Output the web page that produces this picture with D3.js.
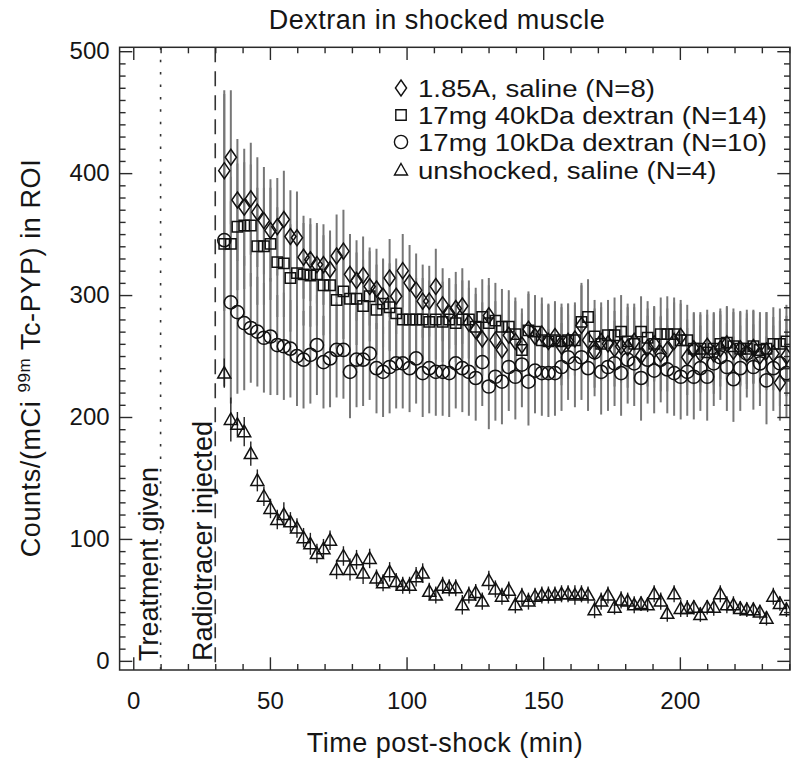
<!DOCTYPE html>
<html><head><meta charset="utf-8">
<script src="https://cdn.jsdelivr.net/npm/d3@7/dist/d3.min.js"></script>
<style>
body{margin:0;background:#fff}
text{font-family:"Liberation Sans",Arial,Helvetica,sans-serif;fill:#151515}
</style>
</head><body>
<svg id="chart" width="795" height="766"></svg>
<script>
// ---------------- data ----------------
const times = [33.3,35.7,38.1,40.6,43.0,45.4,47.8,50.2,52.7,55.1,
  57.5,59.9,62.3,64.8,67.2,69.6,72.0,74.4,76.9,79.3,
  81.7,84.1,86.5,89.0,91.4,93.8,96.2,98.6,101.1,103.5,
  105.9,108.3,110.7,113.2,115.6,118.0,120.4,122.8,125.3,127.7,
  130.1,132.5,134.9,137.4,139.8,142.2,144.6,147.0,149.5,151.9,
  154.3,156.7,159.1,161.6,164.0,166.4,168.8,171.2,173.7,176.1,
  178.5,180.9,183.3,185.8,188.2,190.6,193.0,195.4,197.9,200.3,
  202.7,205.1,207.5,210.0,212.4,214.8,217.2,219.6,222.1,224.5,
  226.9,229.3,231.7,234.2,236.6,239.0];

const saline185 = [402,413,378,372,379,368,361,353,356,362,
  348,347,331,329,325,325,321,332,336,317,
  312,316,307,305,299,314,299,320,310,304,
  295,295,307,292,285,289,291,277,271,264,
  283,263,255,267,262,259,272,266,268,262,
  266,258,262,264,275,263,254,262,260,256,
  258,257,262,250,257,260,252,255,262,266,
  249,256,252,258,252,256,260,254,256,252,
  257,250,254,252,228,250];
const saline185Err = [66,55,50,48,46,45,44,42,40,40,
  38,38,34,34,32,33,32,34,34,33,
  33,32,32,33,31,32,31,30,31,30,
  30,29,31,30,29,30,31,29,30,30,
  31,32,30,29,33,30,31,32,30,31,
  29,32,31,30,33,31,30,32,29,31,
  30,33,31,29,32,30,31,34,32,30,
  31,29,32,30,33,31,30,32,31,29,
  30,31,32,30,31,33];

const dextran40 = [342,342,356,357,357,340,340,342,327,326,
  314,318,317,316,317,308,308,296,303,297,
  297,291,299,288,293,290,285,280,280,280,
  280,278,280,278,280,277,280,280,274,282,
  277,279,274,274,268,255,271,270,263,262,
  263,262,263,263,278,282,266,260,267,267,
  270,262,260,270,265,260,268,268,268,263,
  263,256,256,253,256,260,261,258,256,256,
  258,255,256,260,260,262];
const dextran40Err = [55,55,52,52,50,48,48,46,45,44,
  44,43,42,42,42,41,40,40,39,39,
  38,38,37,37,36,36,35,35,35,34,
  34,34,33,33,33,32,32,32,32,31,
  31,31,31,30,30,30,30,30,30,30,
  30,31,30,29,32,31,30,30,29,31,
  30,31,30,29,30,31,30,31,30,30,
  29,30,30,31,30,29,30,31,30,29,
  30,31,30,30,29,30];

const dextran10 = [345,294,286,277,273,270,265,266,259,258,
  256,250,247,251,259,245,248,255,255,237,
  247,247,252,240,237,241,244,244,240,248,
  236,240,237,237,236,244,240,237,232,245,
  225,233,229,241,233,243,229,238,236,236,
  236,241,249,244,249,240,253,237,241,244,
  236,247,244,232,247,238,247,239,236,233,
  237,233,240,233,244,249,241,231,240,252,
  241,244,230,240,244,236];
const dextran10Err = [120,83,67,55,45,45,45,48,41,44,
  40,41,40,40,41,38,40,39,40,38,
  39,38,38,37,37,38,37,37,36,37,
  36,37,36,36,36,37,36,36,35,36,
  35,36,35,36,35,35,36,35,35,36,
  35,36,35,36,35,35,36,35,36,35,
  35,36,35,35,36,35,35,36,35,35,
  36,35,35,36,35,35,36,35,35,36,
  35,35,36,35,35,36];

const unshocked = [236,198,194,188,170,148,135,125,116,120,
  114,109,101,96,88,92,99,75,86,75,
  83,72,84,68,64,73,65,62,62,69,
  72,57,54,62,60,60,46,54,56,49,
  66,59,53,58,46,53,49,53,54,54,
  54,55,55,54,55,54,42,49,54,44,
  50,49,46,47,46,55,49,39,55,43,
  43,44,38,44,44,55,46,46,43,42,
  42,40,35,53,47,42];
const unshockedErr = [12,18,10,12,10,9,8,8,8,10,
  8,8,8,9,8,8,8,8,8,9,
  8,9,8,7,7,8,7,7,7,8,
  8,7,7,7,7,7,8,7,7,7,
  8,7,7,7,7,7,7,7,7,7,
  7,7,7,8,7,7,7,7,7,6,
  7,7,7,6,6,7,7,7,7,7,
  7,6,6,6,7,7,7,7,6,6,
  6,6,6,7,6,6];

const seriesLabels = ["1.85A, saline (N=8)","17mg 40kDa dextran (N=14)","17mg 10kDa dextran (N=10)","unshocked, saline (N=4)"];
const seriesShapes = ["diamond","square","circle","triangle"];
const xTickValues = [0,50,100,150,200];
const yTickValues = [0,100,200,300,400,500];
const eventTimes = [10,30];
const eventLabels = ["Treatment given","Radiotracer injected"];
const titleText = "Dextran in shocked muscle";
const xTitle = "Time post-shock (min)";

// ---------------- layout ----------------
const L = 119.6, R = 790, T = 47.3, B = 670;
const svg = d3.select("#chart");
const x = d3.scaleLinear().domain([-5, 240.3]).range([L, R]);
const y = d3.scaleLinear().domain([-7.5, 503.2]).range([B, T]);
const axisColor = "#2a2a2a";

const series = [
  {vals: saline185, err: saline185Err},
  {vals: dextran40, err: dextran40Err},
  {vals: dextran10, err: dextran10Err},
  {vals: unshocked, err: unshockedErr}
].map((s,i)=>({...s, shape: seriesShapes[i], label: seriesLabels[i],
   pts: times.map((t,j)=>({t, v:s.vals[j], e:s.err[j]}))}));

function shapePath(shape, cx, cy){
  switch(shape){
    case "diamond": return `M${cx},${cy-8}L${cx+5.6},${cy}L${cx},${cy+8}L${cx-5.6},${cy}Z`;
    case "square": return `M${cx-5.2},${cy-5.2}h10.4v10.4h-10.4Z`;
    case "circle": return `M${cx-6.6},${cy}a6.6,6.6 0 1,0 13.2,0a6.6,6.6 0 1,0 -13.2,0Z`;
    case "triangle": return `M${cx},${cy-6.5}L${cx+6.5},${cy+5}L${cx-6.5},${cy+5}Z`;
  }
}

svg.append("defs").append("clipPath").attr("id","plotclip")
  .append("rect").attr("x",L).attr("y",T).attr("width",R-L).attr("height",B-T);

const plot = svg.append("g").attr("clip-path","url(#plotclip)");

// event lines
plot.append("line").attr("x1",x(eventTimes[0])).attr("x2",x(eventTimes[0]))
  .attr("y1",T).attr("y2",B).attr("stroke","#333").attr("stroke-width",1.6)
  .attr("stroke-dasharray","2.5,9.9");
plot.append("line").attr("x1",x(eventTimes[1])).attr("x2",x(eventTimes[1]))
  .attr("y1",T).attr("y2",B).attr("stroke","#333").attr("stroke-width",1.6)
  .attr("stroke-dasharray","15,9");

// error bars: shocked series grey, unshocked black
series.forEach((s,i)=>{
  plot.append("g").selectAll("line").data(s.pts).join("line")
    .attr("x1",d=>x(d.t)).attr("x2",d=>x(d.t))
    .attr("y1",d=>y(d.v-d.e)).attr("y2",d=>y(d.v+d.e))
    .attr("stroke", i<3 ? "#777" : "#222")
    .attr("stroke-width", i<3 ? 2 : 1.4);
});
// markers
series.forEach(s=>{
  plot.append("g").selectAll("path").data(s.pts).join("path")
    .attr("d",d=>shapePath(s.shape, x(d.t), y(d.v)))
    .attr("fill","none").attr("stroke","#111").attr("stroke-width",1.5);
});

// event labels
eventTimes.forEach((t,i)=>{
  const bx = x(t) - 3;
  svg.append("text").attr("transform",`translate(${bx},${B-9}) rotate(-90)`)
    .attr("font-size",27).attr("text-anchor","start").text(eventLabels[i]);
});

// axes
function styleAxis(g){
  g.select(".domain").remove();
  g.selectAll(".tick line").attr("stroke",axisColor).attr("stroke-width",1.4);
  g.selectAll("text").attr("font-size",24).attr("fill","#151515")
    .attr("font-family","'Liberation Sans',Arial,sans-serif");
}
const minorX = d3.range(0, 241, 10).filter(v=>v%50!==0);
const minorY = d3.range(0, 501, 10).filter(v=>v%100!==0);

svg.append("g").attr("transform",`translate(0,${B})`)
  .call(d3.axisBottom(x).tickValues(xTickValues).tickSize(-12.7).tickPadding(22).tickSizeOuter(0))
  .call(styleAxis);
svg.append("g").attr("transform",`translate(0,${B})`)
  .call(d3.axisBottom(x).tickValues(minorX).tickSize(-6).tickFormat("").tickSizeOuter(0))
  .call(styleAxis);
svg.append("g").attr("transform",`translate(0,${T})`)
  .call(d3.axisTop(x).tickValues(xTickValues).tickSize(-12.7).tickFormat("").tickSizeOuter(0))
  .call(styleAxis);
svg.append("g").attr("transform",`translate(0,${T})`)
  .call(d3.axisTop(x).tickValues(minorX).tickSize(-6).tickFormat("").tickSizeOuter(0))
  .call(styleAxis);
svg.append("g").attr("transform",`translate(${L},0)`)
  .call(d3.axisLeft(y).tickValues(yTickValues).tickSize(-12.7).tickPadding(10).tickSizeOuter(0))
  .call(styleAxis);
svg.append("g").attr("transform",`translate(${L},0)`)
  .call(d3.axisLeft(y).tickValues(minorY).tickSize(-6).tickFormat("").tickSizeOuter(0))
  .call(styleAxis);
svg.append("g").attr("transform",`translate(${R},0)`)
  .call(d3.axisRight(y).tickValues(yTickValues).tickSize(-12.7).tickFormat("").tickSizeOuter(0))
  .call(styleAxis);
svg.append("g").attr("transform",`translate(${R},0)`)
  .call(d3.axisRight(y).tickValues(minorY).tickSize(-6).tickFormat("").tickSizeOuter(0))
  .call(styleAxis);

// frame
svg.append("rect").attr("x",L).attr("y",T).attr("width",R-L).attr("height",B-T)
  .attr("fill","none").attr("stroke",axisColor).attr("stroke-width",1.5);

// titles
svg.append("text").attr("x",437).attr("y",29).attr("text-anchor","middle")
  .attr("font-size",27).attr("letter-spacing",0.5).text(titleText);
svg.append("text").attr("x",445).attr("y",752).attr("text-anchor","middle")
  .attr("font-size",27).attr("letter-spacing",0.5).text(xTitle);
const yt = svg.append("text").attr("transform","translate(40,358) rotate(-90)")
  .attr("text-anchor","middle").attr("font-size",27).attr("letter-spacing",0.6);
yt.append("tspan").text("Counts/(mCi ");
yt.append("tspan").attr("font-size",17).attr("dy",-10).text("99m");
yt.append("tspan").attr("dy",10).text(" Tc-PYP) in ROI");

// legend
const legendRows = [88,115,142,170];
series.forEach((s,i)=>{
  svg.append("path").attr("d",shapePath(s.shape, 401, legendRows[i]))
    .attr("fill","none").attr("stroke","#111").attr("stroke-width",1.4);
  svg.append("text").attr("transform",`translate(418,${legendRows[i]+9}) scale(1.15,1)`)
    .attr("font-size",24).text(s.label);
});
</script>
</body></html>
